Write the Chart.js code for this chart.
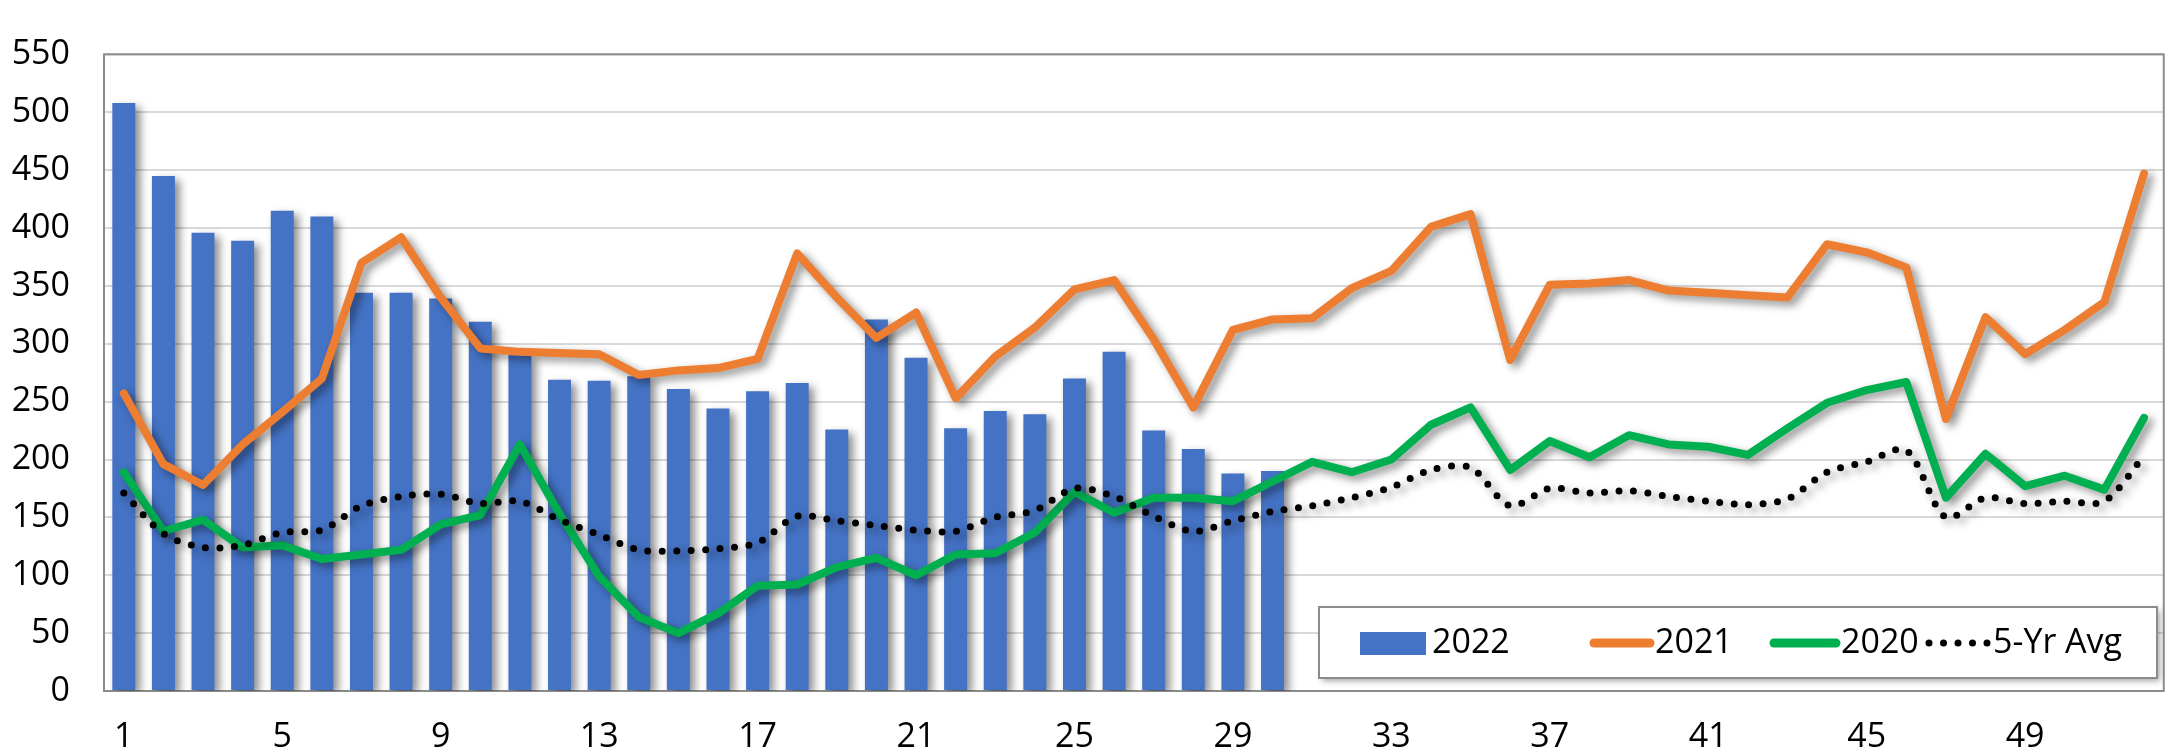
<!DOCTYPE html>
<html>
<head>
<meta charset="utf-8">
<script src="https://cdn.jsdelivr.net/npm/chart.js@4/dist/chart.umd.min.js"></script>
<style>
  html, body { margin: 0; padding: 0; background: #fff; }
  #wrap { width: 2170px; height: 756px; }
</style>
</head>
<body>
<div id="wrap"><canvas id="chart" width="2170" height="756"></canvas></div>
<script>
// week numbers
const weeks = [1, 2, 3, 4, 5, 6, 7, 8, 9, 10, 11, 12, 13, 14, 15, 16, 17, 18, 19, 20,
  21, 22, 23, 24, 25, 26, 27, 28, 29, 30, 31, 32, 33, 34, 35, 36, 37, 38, 39, 40,
  41, 42, 43, 44, 45, 46, 47, 48, 49, 50, 51, 52];

// 2022 (bars, only 30 weeks so far)
const values2022 = [508, 445, 396, 389, 415, 410, 344, 344, 339, 319,
  290, 269, 268, 272, 261, 244, 259, 266, 226, 321,
  288, 227, 242, 239, 270, 293, 225, 209, 188, 190];

const values2021 = [257, 196, 178, 213, 241, 270, 370, 392, 340, 296,
  293, 292, 291, 273, 277, 279, 287, 378, 340, 305,
  327, 253, 289, 314, 347, 355, 304, 245, 312, 321,
  322, 348, 363, 401, 412, 286, 351, 352, 355, 346,
  344, 342, 340, 386, 379, 366, 235, 323, 291, 312,
  336, 447];

const values2020 = [189, 138, 148, 124, 126, 114, 118, 122, 144, 152,
  213, 153, 99, 64, 50, 67, 91, 92, 107, 115,
  100, 118, 119, 137, 172, 154, 167, 167, 164, 181,
  198, 189, 200, 230, 245, 191, 216, 202, 221, 213,
  211, 204, 227, 249, 260, 267, 167, 205, 177, 186,
  174, 236];

const avg5yr = [171, 136, 124, 126, 137, 139, 160, 168, 170, 162,
  164, 148, 135, 122, 121, 123, 128, 151, 147, 143,
  139, 138, 150, 156, 175, 168, 151, 138, 147, 155,
  160, 167, 176, 191, 193, 160, 175, 171, 173, 168,
  164, 161, 166, 189, 198, 208, 150, 167, 162, 164,
  164, 203];

const FONT = "'Open Sans', 'Noto Sans', sans-serif";

// excel-like soft shadow under every series
const shadowPlugin = {
  id: 'shadow',
  beforeDatasetDraw(chart) {
    const ctx = chart.ctx;
    ctx.save();
    ctx.shadowColor = 'rgba(0,0,0,0.45)';
    ctx.shadowBlur = 8;
    ctx.shadowOffsetX = 5;
    ctx.shadowOffsetY = 4;
  },
  afterDatasetDraw(chart) {
    chart.ctx.restore();
  }
};

// grey frame round the plot area
const framePlugin = {
  id: 'frame',
  beforeDatasetsDraw(chart) {
    const { ctx, chartArea: a } = chart;
    ctx.save();
    ctx.strokeStyle = '#8c8c8c';
    ctx.lineWidth = 2;
    ctx.strokeRect(a.left, a.top, a.right - a.left, a.bottom - a.top);
    ctx.restore();
  }
};

// boxed legend inside the lower right of the plot
const legendBoxPlugin = {
  id: 'legendBox',
  afterDraw(chart) {
    const ctx = chart.ctx;
    const ds = chart.data.datasets;
    const box = { x: 1319, y: 607, w: 838, h: 71 };
    ctx.save();
    ctx.shadowColor = 'rgba(0,0,0,0.35)';
    ctx.shadowBlur = 6;
    ctx.shadowOffsetX = 3;
    ctx.shadowOffsetY = 3;
    ctx.fillStyle = '#fff';
    ctx.fillRect(box.x, box.y, box.w, box.h);
    ctx.restore();

    ctx.save();
    ctx.strokeStyle = '#8c8c8c';
    ctx.lineWidth = 2;
    ctx.strokeRect(box.x, box.y, box.w, box.h);

    const cy = 643;
    ctx.font = '34px ' + FONT;
    ctx.fillStyle = '#000';
    ctx.textBaseline = 'middle';

    // 2022 bar swatch
    ctx.fillStyle = ds[0].backgroundColor;
    ctx.fillRect(1360, cy - 11, 66, 23);
    ctx.fillStyle = '#000';
    ctx.fillText(ds[0].label, 1432, cy);

    // 2021 / 2020 line swatches
    [[ds[1], 1594, 1650, 1655], [ds[2], 1774, 1836, 1841]].forEach(([d, x0, x1, tx]) => {
      ctx.strokeStyle = d.borderColor;
      ctx.lineWidth = 9;
      ctx.lineCap = 'round';
      ctx.beginPath();
      ctx.moveTo(x0, cy);
      ctx.lineTo(x1, cy);
      ctx.stroke();
      ctx.fillText(d.label, tx, cy);
    });

    // 5-yr avg dots
    ctx.fillStyle = '#000';
    for (let i = 0; i < 5; i++) {
      ctx.beginPath();
      ctx.arc(1929 + i * 14.5, cy, 3.5, 0, Math.PI * 2);
      ctx.fill();
    }
    ctx.fillText(ds[3].label, 1993, cy);
    ctx.restore();
  }
};

new Chart(document.getElementById('chart').getContext('2d'), {
  type: 'bar',
  data: {
    labels: weeks,
    datasets: [
      {
        type: 'bar',
        label: '2022',
        data: values2022,
        backgroundColor: '#4472C4',
        borderWidth: 0,
        barPercentage: 0.58,
        categoryPercentage: 1,
        order: 4
      },
      {
        type: 'line',
        label: '2021',
        data: values2021,
        borderColor: '#ED7D31',
        backgroundColor: '#ED7D31',
        borderWidth: 8,
        pointRadius: 0,
        tension: 0,
        borderJoinStyle: 'round',
        borderCapStyle: 'round',
        order: 3
      },
      {
        type: 'line',
        label: '2020',
        data: values2020,
        borderColor: '#00B050',
        backgroundColor: '#00B050',
        borderWidth: 8,
        pointRadius: 0,
        tension: 0,
        borderJoinStyle: 'round',
        borderCapStyle: 'round',
        order: 2
      },
      {
        type: 'line',
        label: '5-Yr Avg',
        data: avg5yr,
        borderColor: '#000',
        backgroundColor: '#000',
        borderWidth: 7,
        borderDash: [0, 14.5],
        borderCapStyle: 'round',
        pointRadius: 0,
        tension: 0.3,
        order: 1
      }
    ]
  },
  options: {
    responsive: false,
    animation: false,
    layout: { padding: { top: 20, right: 5, left: 0, bottom: 0 } },
    plugins: {
      legend: { display: false },
      tooltip: { enabled: false }
    },
    scales: {
      x: {
        grid: { display: false, drawTicks: false },
        border: { display: false },
        ticks: {
          color: '#000',
          font: { family: FONT, size: 34 },
          padding: 26,
          autoSkip: false,
          maxRotation: 0,
          callback: function (val, idx) {
            return idx % 4 === 0 ? this.getLabelForValue(val) : '';
          }
        },
        afterFit(scale) { scale.height = 65; }
      },
      y: {
        min: 0,
        max: 550,
        grid: { color: '#d9d9d9', lineWidth: 2, drawTicks: false },
        border: { display: false },
        ticks: {
          stepSize: 50,
          color: '#000',
          font: { family: FONT, size: 34 },
          padding: 34
        },
        afterFit(scale) { scale.width = 104; }
      }
    }
  },
  plugins: [shadowPlugin, framePlugin, legendBoxPlugin]
});
</script>
</body>
</html>
